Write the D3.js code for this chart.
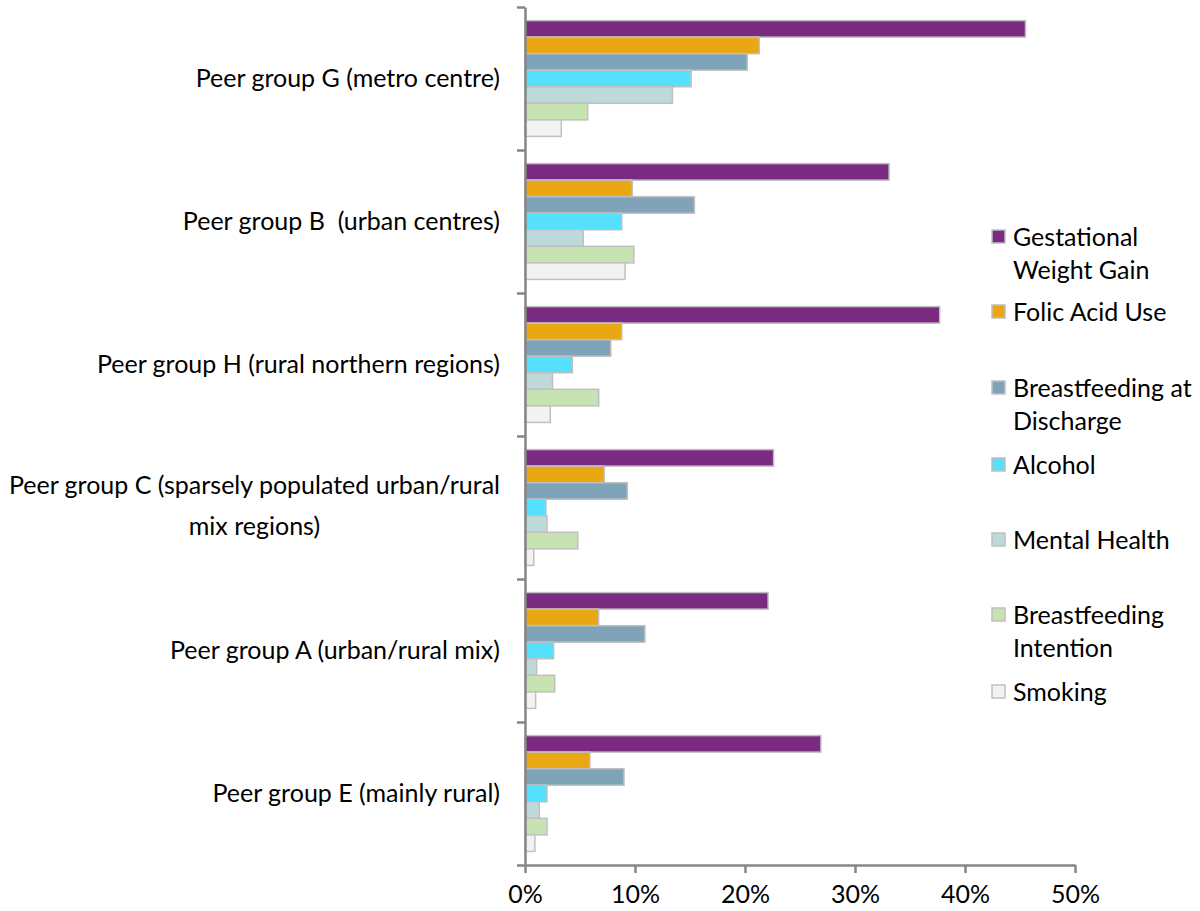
<!DOCTYPE html>
<html><head><meta charset="utf-8">
<script src="https://cdn.jsdelivr.net/npm/d3@7"></script>
<style>
body{margin:0;background:#fff;}
text{font-family:Lato,"Open Sans",sans-serif;fill:#000;white-space:pre;}
</style></head>
<body>
<svg id="chart" width="1200" height="911"></svg>
<script>
const categories = [
  ["Peer group G (metro centre)"],
  ["Peer group B  (urban centres)"],
  ["Peer group H (rural northern regions)"],
  ["Peer group C (sparsely populated urban/rural", "mix regions)"],
  ["Peer group A (urban/rural mix)"],
  ["Peer group E (mainly rural)"]
];
const seriesNames = [
  ["Gestational", "Weight Gain"],
  ["Folic Acid Use"],
  ["Breastfeeding at", "Discharge"],
  ["Alcohol"],
  ["Mental Health"],
  ["Breastfeeding", "Intention"],
  ["Smoking"]
];
const colors = ["#7b2a82", "#e8a713", "#7fa4ba", "#55e1fe", "#bed9da", "#c6e3b1", "#f2f2f2"];
// values per category, in series order
const gestational   = [45.5, 33.1, 37.7, 22.6, 22.1, 26.9];
const folicAcid     = [21.3, 9.75, 8.8, 7.2, 6.7, 5.9];
const bfDischarge   = [20.2, 15.4, 7.8, 9.3, 10.9, 9.0];
const alcohol       = [15.1, 8.8, 4.3, 1.9, 2.6, 2.0];
const mentalHealth  = [13.4, 5.3, 2.5, 2.0, 1.06, 1.3];
const bfIntention   = [5.7, 9.9, 6.7, 4.8, 2.7, 2.0];
const smoking       = [3.3, 9.1, 2.3, 0.8, 0.97, 0.9];
const seriesValues = [gestational, folicAcid, bfDischarge, alcohol, mentalHealth, bfIntention, smoking];
const xTicks = [0, 10, 20, 30, 40, 50];

const svg = d3.select("#chart");
const mLeft = 525, mRight = 1075, mTop = 7, mBottom = 865;
const FS = 25;

const x = d3.scaleLinear().domain([0, 50]).range([mLeft, mRight]);
const y = d3.scaleBand().domain(d3.range(categories.length)).range([mTop, mBottom])
  .paddingInner(0.19).paddingOuter(0.095);
const yInner = d3.scaleBand().domain(d3.range(seriesValues.length)).range([0, y.bandwidth()]);

// bars
const g = svg.append("g");
categories.forEach((c, ci) => {
  seriesValues.forEach((vals, si) => {
    g.append("rect")
      .attr("x", x(0))
      .attr("y", y(ci) + yInner(si))
      .attr("width", x(vals[ci]) - x(0))
      .attr("height", yInner.bandwidth())
      .attr("fill", colors[si])
      .attr("stroke", "#c0c0c0")
      .attr("stroke-width", 1.5);
  });
});

// left axis (ticks at category boundaries)
const yEdge = d3.scaleLinear().domain([0, categories.length]).range([mTop, mBottom]);
const la = svg.append("g").attr("transform", `translate(${mLeft},0)`)
  .call(d3.axisLeft(yEdge).tickValues(d3.range(categories.length + 1)).tickFormat("").tickSize(8).tickSizeOuter(0));
la.selectAll("line,path").attr("stroke", "#868686").attr("stroke-width", 2.5);

// bottom axis
const ba = svg.append("g").attr("transform", `translate(0,${mBottom})`)
  .call(d3.axisBottom(x).tickValues(xTicks).tickFormat(d => d + "%").tickSize(8).tickSizeOuter(0));
ba.selectAll("line,path").attr("stroke", "#868686").attr("stroke-width", 2.5);
ba.selectAll("text").attr("font-size", FS).attr("font-family", "Lato").attr("y", 20).attr("dy", "0.71em").attr("fill", "#000");

// category labels
const labelRight = 500;
categories.forEach((lines, ci) => {
  const cy = y(ci) + y.bandwidth() / 2;
  if (lines.length === 1) {
    svg.append("text").attr("x", labelRight).attr("y", cy).attr("dy", "0.35em")
      .attr("text-anchor", "end").attr("font-size", FS).text(lines[0]);
  } else {
    const lh = 41;
    const t1 = svg.append("text").attr("x", labelRight).attr("y", cy - lh / 2 - 2).attr("dy", "0.35em")
      .attr("text-anchor", "end").attr("font-size", FS).text(lines[0]);
    const w = t1.node().getComputedTextLength();
    svg.append("text").attr("x", labelRight - w / 2).attr("y", cy + lh / 2 - 2).attr("dy", "0.35em")
      .attr("text-anchor", "middle").attr("font-size", FS).text(lines[1]);
  }
});

// legend
const legendY = [237, 312, 388, 465, 540, 615, 692];
const legendLH = 33;
const lg = svg.append("g");
seriesNames.forEach((lines, si) => {
  const ly = legendY[si];
  lg.append("rect").attr("x", 992).attr("y", ly - 7).attr("width", 13).attr("height", 13)
    .attr("fill", colors[si]).attr("stroke", "#c0c0c0").attr("stroke-width", 1.5);
  lines.forEach((t, li) => {
    lg.append("text").attr("x", 1013).attr("y", ly + li * legendLH).attr("dy", "0.35em")
      .attr("font-size", FS).text(t);
  });
});
</script>
</body></html>
